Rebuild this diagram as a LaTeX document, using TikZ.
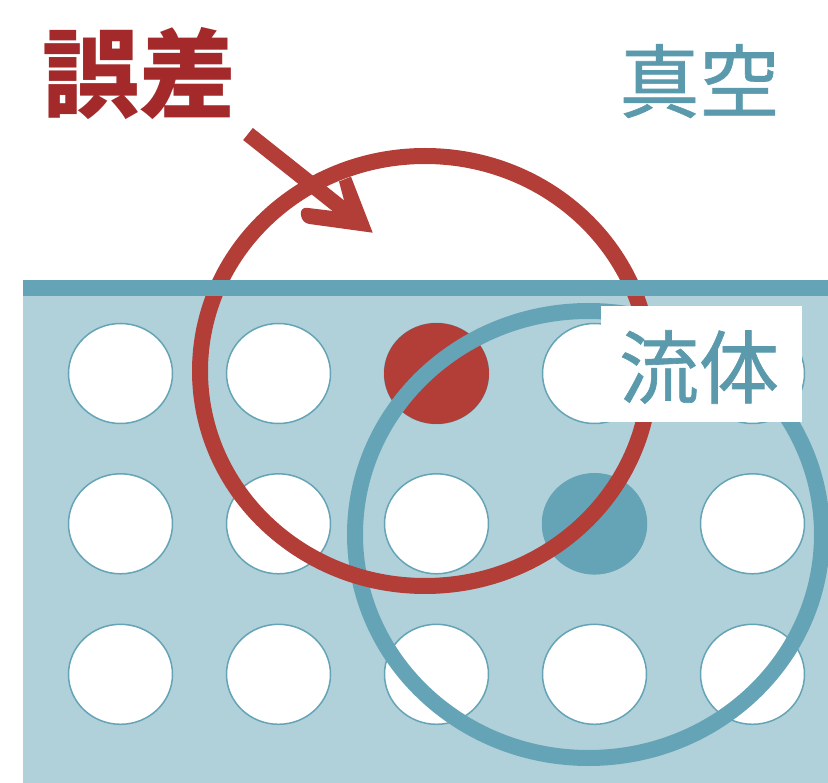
\documentclass[tikz,border=0pt]{standalone}
\usepackage{fontspec}
\newfontfamily\cjk{Noto Sans CJK JP}
\newfontfamily\cjkm[FakeBold=0.8]{Noto Sans CJK JP}
\usetikzlibrary{shapes.geometric}
\definecolor{fluidbg}{HTML}{B0D1DA}
\definecolor{tealc}{HTML}{65A4B6}
\definecolor{redc}{HTML}{B33D37}
\definecolor{redtext}{HTML}{A3292A}
\definecolor{tealtext}{HTML}{5A9AAC}
\tikzset{
  hole/.style={ellipse, minimum width=104pt, minimum height=100pt, inner sep=0pt, fill=white, draw=tealc, line width=1.5pt},
  redhole/.style={ellipse, minimum width=105pt, minimum height=101pt, inner sep=0pt, fill=redc},
  tealhole/.style={ellipse, minimum width=105pt, minimum height=101pt, inner sep=0pt, fill=tealc},
  ring/.style={line width=16pt},
}
\begin{document}
\begin{tikzpicture}[x=1pt,y=-1pt]
\useasboundingbox (0,0) rectangle (828,783);
% fluid background
\fill[fluidbg] (23,290) rectangle (828,783);
% holes
\foreach \i/\x in {1/120.5,2/278.5,3/436.5,4/594.5,5/752.5}{
  \foreach \j/\y in {1/373.5,2/523.8,3/674.3}{
    \node[hole] (h\i\j) at (\x,\y) {};
  }
}
\node[redhole] (rfill) at (h31) {};
\node[tealhole] (tfill) at (h42) {};
% rings
\draw[tealc, ring] (588.5,534.5) ellipse [x radius=233.5pt, y radius=223.5pt];
\draw[redc, ring] (425,371) ellipse [x radius=225pt, y radius=215pt];
% surface band
\fill[tealc] (23,280) rectangle (828,296);
% label box
\node[fill=white, minimum width=201pt, minimum height=116pt, inner sep=0pt, anchor=north west] (box) at (601,306) {};
% texts
\node[inner sep=0pt, text=redtext, font=\cjk\bfseries\fontsize{97}{97}\selectfont] (err) at (139,73) {誤差};
\node[inner sep=0pt, text=tealtext, font=\cjkm\fontsize{80}{80}\selectfont] (vac) at (699.5,81) {真空};
\node[inner sep=0pt, text=tealtext, font=\cjkm\fontsize{80}{80}\selectfont] (flu) at (699,367) {流体};
% arrow
\coordinate (astart) at (248,134);
\coordinate (aend) at (345,211);
\draw[redc, line width=15.5pt] (astart) -- (aend);
\fill[redc, rounded corners=0pt] (372.7,232.7) -- (351,176.7) -- (339,181.5) -- (345,204) -- (333,211)
  [rounded corners=7pt] -- (300,207) -- (302,223) [rounded corners=0pt] -- cycle;
\end{tikzpicture}
\end{document}
